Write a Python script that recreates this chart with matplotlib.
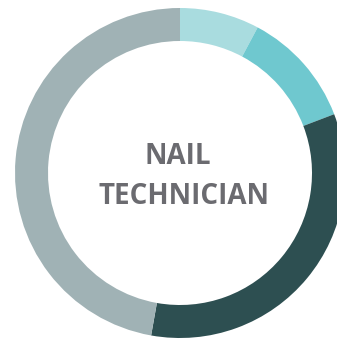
import matplotlib.pyplot as plt

# donut shares, clockwise from 12 o'clock
labels = ["A", "B", "C", "D"]
shares = [7.8, 11.4, 33.6, 47.2]
colors = ["#a9dcdf", "#6fc8cf", "#2d4f51", "#a0b2b5"]
title_lines = ["NAIL", "TECHNICIAN"]

W, H = 337, 341
fig = plt.figure(figsize=(W / 100, H / 100), dpi=100)
ax = fig.add_axes([0, 0, 1, 1])
ax.set_xlim(0, W)
ax.set_ylim(0, H)
ax.set_aspect("equal")
ax.axis("off")

cx, cy, r = 180, H - 173, 165
ax.pie(shares, colors=colors, startangle=90, counterclock=False,
       center=(cx, cy), radius=r, frame=True,
       wedgeprops=dict(width=33, linewidth=0))
ax.set_xlim(0, W)
ax.set_ylim(0, H)
ax.axis("off")

ax.text(178, H - 157, title_lines[0], ha="center", va="center",
        fontsize=20, fontweight="bold", color="#6b6b70", family="Open Sans")
ax.text(184, H - 196, title_lines[1], ha="center", va="center",
        fontsize=20, fontweight="bold", color="#6b6b70", family="Open Sans")

fig.savefig("out.png", dpi=100)
